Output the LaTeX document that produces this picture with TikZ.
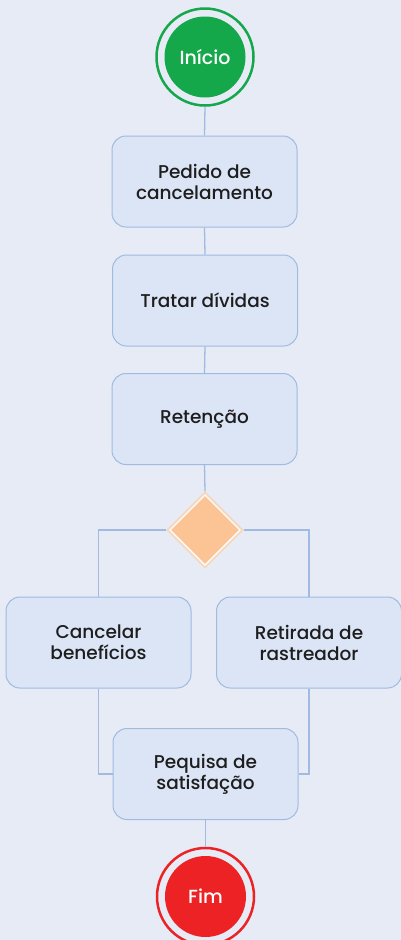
\documentclass[tikz,border=0pt]{standalone}
\usepackage{fontspec}
\setmainfont{Poppins}[UprightFont={* Medium}]
\usetikzlibrary{shapes.geometric}
\definecolor{bgc}{RGB}{230,235,246}
\definecolor{boxfill}{RGB}{220,229,245}
\definecolor{boxline}{RGB}{160,186,226}
\definecolor{startgreen}{RGB}{20,168,74}
\definecolor{endred}{RGB}{237,34,36}
\definecolor{peach}{RGB}{252,196,148}
\definecolor{peachline}{RGB}{253,212,172}
\definecolor{txt}{RGB}{30,30,30}
\tikzset{
  stepbox/.style={draw=boxline, fill=boxfill, line width=1pt, rounded corners=14pt,
    minimum width=185pt, minimum height=91pt, inner sep=0pt, align=center,
    font=\fontsize{18.5}{21}\selectfont, text=txt},
  termfill/.style={circle, inner sep=0pt, minimum size=81pt, text=white,
    font=\fontsize{19}{22}\selectfont},
  termring/.style={circle, inner sep=0pt, minimum size=97pt, line width=2.5pt},
  conn/.style={draw=boxline, line width=1.3pt}
}
\begin{document}
\begin{tikzpicture}[x=1pt,y=-1pt]
\fill[bgc] (0,0) rectangle (401,940);
\useasboundingbox (0,0) rectangle (401,940);
% start
\node[termfill, fill=startgreen] (start) at (205,57) {Início};
\node[termring, draw=startgreen] (startring) at (205,57) {};
% boxes
\node[stepbox] (pedido) at (204.5,181.5) {Pedido de\\cancelamento};
\node[stepbox] (dividas) at (205,300.5) {Tratar dívidas};
\node[stepbox] (retencao) at (204.5,419) {Retenção};
% decision
\node[diamond, draw=peachline, line width=1.2pt, inner sep=0pt, minimum width=76pt, minimum height=76pt] (dec) at (205,530) {};
\node[diamond, fill=peach, draw=white, line width=1pt, inner sep=0pt, minimum width=70pt, minimum height=70pt] (decin) at (205,530) {};
% branches
\node[stepbox] (cancelar) at (98.5,642.5) {Cancelar\\benefícios};
\node[stepbox] (retirada) at (309,642.5) {Retirada de\\rastreador};
\node[stepbox] (pesquisa) at (205.5,774) {Pequisa de\\satisfação};
% end
\node[termfill, fill=endred] (fim) at (205.5,896.5) {Fim};
\node[termring, draw=endred] (fimring) at (205.5,896.5) {};
% connectors
\draw[conn] (startring.south) -- (pedido.north);
\draw[conn] (pedido.south) -- (dividas.north);
\draw[conn] (dividas.south) -- (retencao.north);
\draw[conn] (retencao.south) -- (dec.north);
\draw[conn] (dec.west) -| (cancelar.north);
\draw[conn] (dec.east) -| (retirada.north);
\draw[conn] (cancelar.south) |- (pesquisa.west);
\draw[conn] (retirada.south) |- (pesquisa.east);
\draw[conn] (pesquisa.south) -- (fimring.north);
\end{tikzpicture}
\end{document}
